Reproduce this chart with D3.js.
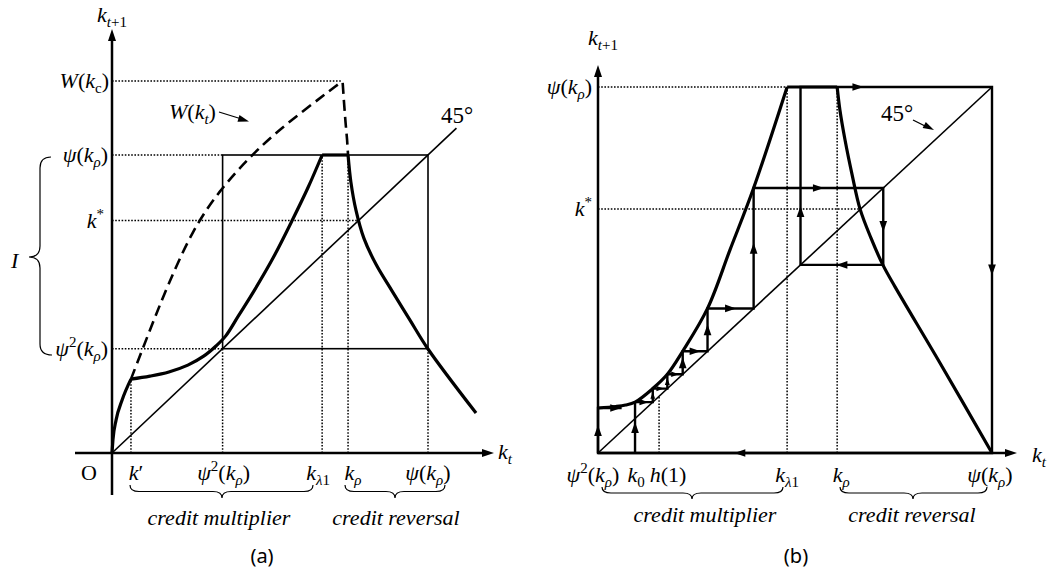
<!DOCTYPE html>
<html><head><meta charset="utf-8">
<script src="https://cdn.jsdelivr.net/npm/d3@7/dist/d3.min.js"></script>
<style>html,body{margin:0;padding:0;background:#fff;}svg{display:block;}</style>
</head><body>
<svg id="c" width="1049" height="573"></svg>
<script>
// ---------------- DATA ----------------
// Panel (a): positions on the axes (units where psi(k_rho) = 10)
const aTicks = { kPrime: 0.60, psi2: 3.5, kLambda: 6.65, kRho: 7.47, psi: 10, kStar: 7.8, Wkc: 12.48 };
// Panel (a) map k_{t+1} = f(k_t), pieces
const aLowX  = [0, 0.03, 0.13, 0.32, 0.60];
const aLowY  = [0, 0.44, 1.11, 1.78, 2.48];
const aRiseX = [0.60, 1.20, 1.80, 2.40, 2.90, 3.30, 3.60, 4.00, 4.50, 5.10, 5.70, 6.20, 6.65];
const aRiseY = [2.48, 2.58, 2.72, 2.95, 3.25, 3.60, 3.93, 4.60, 5.45, 6.55, 7.80, 8.90, 10];
const aFallX = [7.47, 7.56, 7.72, 7.97, 8.35, 8.86, 9.43, 10, 11.52];
const aFallY = [10, 9.09, 8.15, 7.21, 6.34, 5.44, 4.46, 3.49, 1.34];
// Panel (a) W(k_t) dashed curve
const aWX = [0.60, 1.20, 1.74, 2.56, 3.42, 4.27, 5.09, 6.17, 7.22];
const aWY = [2.48, 4.13, 5.57, 7.52, 8.83, 9.83, 10.67, 11.58, 12.42];
const aWDropX = [7.30, 7.34, 7.39, 7.44, 7.47];
const aWDropY = [12.42, 11.8, 11.1, 10.5, 10];
const a45End = 10.9;

// Panel (b)
const bTicks = { k0: 0.94, h1: 1.55, kLambda: 4.80, kRho: 6.07, psi: 10, kStar: 6.67, start: 1.23 };
const bRiseX = [0, 0.45, 0.70, 0.94, 1.39, 1.76, 2.15, 2.78, 3.35, 3.95, 4.80];
const bRiseY = [1.23, 1.27, 1.31, 1.39, 1.76, 2.15, 2.78, 3.95, 5.55, 7.24, 10];
const bFallX = [6.07, 6.14, 6.27, 6.45, 6.65, 6.93, 7.23, 7.54, 8.68, 10];
const bFallY = [10, 9.37, 8.55, 7.60, 6.67, 5.87, 5.14, 4.54, 2.46, 0];
// cobweb sequence k0, k1, k2, ...
const bSeq = [0.94, 1.39, 1.76, 2.15, 2.78, 3.95, 7.24, 5.14, 10];

// ---------------- DRAWING ----------------
const svg = d3.select('#c');
const SERIF = "'Liberation Serif'";
const SANS = "'Noto Sans'";

const xA = d3.scaleLinear().domain([0, 10]).range([112, 428]);
const yA = d3.scaleLinear().domain([0, 10]).range([453, 155]);
const xB = d3.scaleLinear().domain([0, 10]).range([598, 992]);
const yB = d3.scaleLinear().domain([0, 10]).range([453, 87]);

function zip(xs, ys) { return xs.map((x, i) => [x, ys[i]]); }
const smooth = d3.curveCatmullRom.alpha(0.5);

function curve(g, xs, ys, sx, sy, w, dash, kind) {
  const line = d3.line().x(d => sx(d[0])).y(d => sy(d[1])).curve(kind || smooth);
  const p = g.append('path').attr('d', line(zip(xs, ys))).attr('fill', 'none')
    .attr('stroke', '#000').attr('stroke-width', w).attr('stroke-linejoin', 'round');
  if (dash) p.attr('stroke-dasharray', dash);
  return p;
}
function seg(g, x1, y1, x2, y2, w, dash) {
  const l = g.append('line').attr('x1', x1).attr('y1', y1).attr('x2', x2).attr('y2', y2)
    .attr('stroke', '#000').attr('stroke-width', w);
  if (dash) l.attr('stroke-dasharray', dash);
  return l;
}
function head(g, x, y, ang, len, wid) {
  len = len || 11; wid = wid || 8;
  const a = ang * Math.PI / 180, c = Math.cos(a), s = Math.sin(a);
  const bx = x - len * c, by = y - len * s;
  const px = -s * wid / 2, py = c * wid / 2;
  g.append('path').attr('d', `M${x},${y}L${bx + px},${by + py}L${bx - px},${by - py}Z`).attr('fill', '#000');
}
function label(g, x, y, parts, anchor, size) {
  size = size || 22;
  const allUp = parts.every(p => (p[1] || '').includes('u'));
  const t = g.append('text').attr('x', x).attr('y', y).attr('text-anchor', anchor || 'start')
    .attr('font-size', size).style('font-family', SERIF)
    .style('font-style', allUp ? 'normal' : 'italic');
  let shift = 0;
  parts.forEach(p => {
    const s = p[0], f = p[1] || '';
    const target = f.includes('b') ? 5 : f.includes('p') ? -9 : 0;
    const ts = t.append('tspan').text(s).attr('dy', target - shift);
    shift = target;
    if (f.includes('u')) ts.style('font-style', 'normal');
    if (f.includes('b') || f.includes('p')) ts.attr('font-size', Math.round(size * 0.68));
  });
  return t;
}
function hbrace(g, x1, x2, xm, y, h) {
  const r = 9, m = y + h / 2;
  g.append('path').attr('d',
    `M${x1},${y}Q${x1},${m} ${x1 + r},${m}L${xm - r},${m}Q${xm},${m} ${xm},${y + h}Q${xm},${m} ${xm + r},${m}L${x2 - r},${m}Q${x2},${m} ${x2},${y}`)
    .attr('fill', 'none').attr('stroke', '#000').attr('stroke-width', 1.2);
}
const DOT = '1.6,1.6';
const psiR = [['ψ'], ['(', 'u'], ['k'], ['ρ', 'b'], [')', 'u']];
const psi2R = [['ψ'], ['2', 'pu'], ['(', 'u'], ['k'], ['ρ', 'b'], [')', 'u']];
const kStarL = [['k'], ['*', 'pu']];
const kLamL = [['k'], ['λ', 'b'], ['1', 'bu']];
const kRhoL = [['k'], ['ρ', 'b']];

// ======== Panel (a) ========
const ga = svg.append('g');
// dotted guides
seg(ga, xA(0), yA(aTicks.Wkc), xA(aWX[aWX.length - 1]) + 2, yA(aTicks.Wkc), 1.5, DOT);
seg(ga, xA(0), yA(aTicks.psi), xA(aTicks.psi2), yA(aTicks.psi), 1.5, DOT);
seg(ga, xA(0), yA(aTicks.kStar), xA(aTicks.kStar), yA(aTicks.kStar), 1.5, DOT);
seg(ga, xA(0), yA(aTicks.psi2), xA(aTicks.psi2), yA(aTicks.psi2), 1.5, DOT);
seg(ga, xA(aTicks.kPrime), yA(0), xA(aTicks.kPrime), yA(aLowY[aLowY.length - 1]), 1.5, DOT);
seg(ga, xA(aTicks.psi2), yA(0), xA(aTicks.psi2), yA(aTicks.psi2), 1.5, DOT);
seg(ga, xA(aTicks.kLambda), yA(0), xA(aTicks.kLambda), yA(aTicks.psi), 1.5, DOT);
seg(ga, xA(aTicks.kRho), yA(0), xA(aTicks.kRho), yA(aTicks.psi), 1.5, DOT);
seg(ga, xA(aTicks.psi), yA(0), xA(aTicks.psi), yA(aTicks.psi2), 1.5, DOT);
// box
ga.append('rect').attr('x', xA(aTicks.psi2)).attr('y', yA(aTicks.psi))
  .attr('width', xA(aTicks.psi) - xA(aTicks.psi2)).attr('height', yA(aTicks.psi2) - yA(aTicks.psi))
  .attr('fill', 'none').attr('stroke', '#000').attr('stroke-width', 1.6);
// 45 degree line
seg(ga, xA(0), yA(0), xA(a45End), yA(a45End), 1.6);
// axes
seg(ga, 75, yA(0), 484, yA(0), 2.5); head(ga, 494, yA(0), 0, 12, 8);
seg(ga, xA(0), 495, xA(0), 40, 2.5); head(ga, xA(0), 29, -90, 12, 8);
// curves
curve(ga, aLowX, aLowY, xA, yA, 3.2, null, d3.curveMonotoneX);
curve(ga, aRiseX, aRiseY, xA, yA, 3.2);
seg(ga, xA(aTicks.kLambda), yA(10), xA(aTicks.kRho), yA(10), 3.2);
curve(ga, aFallX, aFallY, xA, yA, 3.2);
curve(ga, aWX, aWY, xA, yA, 2.6, '11,6', d3.curveBasis);
curve(ga, aWDropX, aWDropY, xA, yA, 2.6, '11,6', d3.curveLinear);
// W(k_t) annotation
label(ga, 169, 119, [['W'], ['(', 'u'], ['k'], ['t', 'b'], [')', 'u']]);
seg(ga, 219, 112, 240, 118.5, 1.3); head(ga, 249, 121.5, 17, 11, 7);
label(ga, 441, 123, [['45°', 'u']], 'start', 23);
// y labels
label(ga, 109, 88, [['W'], ['(', 'u'], ['k'], ['c', 'bu'], [')', 'u']], 'end');
label(ga, 108, 162, psiR, 'end');
label(ga, 104, 228, kStarL, 'end');
label(ga, 108, 356, psi2R, 'end');
label(ga, 97, 22, [['k'], ['t', 'b'], ['+1', 'bu']]);
label(ga, 498, 459, [['k'], ['t', 'b']]);
label(ga, 11, 268, [['I']]);
ga.append('path').attr('d', 'M51,157Q40,157 40,168L40,246Q40,257 29,257Q40,257 40,268L40,344Q40,355 52,355')
  .attr('fill', 'none').attr('stroke', '#000').attr('stroke-width', 1.2);
// x labels
label(ga, 89, 480, [['O', 'u']], 'middle');
label(ga, xA(aTicks.kPrime) + 5, 480, [['k'], ['′', 'u']], 'middle');
label(ga, xA(aTicks.psi2) + 1, 480, psi2R, 'middle');
label(ga, xA(aTicks.kLambda) - 4, 480, kLamL, 'middle');
label(ga, xA(aTicks.kRho) + 5, 480, kRhoL, 'middle');
label(ga, xA(aTicks.psi), 480, psiR, 'middle');
hbrace(ga, 130, 313, 222, 485, 13);
hbrace(ga, 345, 445, 395, 485, 13);
label(ga, 219, 525, [['credit multiplier']], 'middle');
label(ga, 396, 525, [['credit reversal']], 'middle');
ga.append('text').attr('x', 262).attr('y', 563).attr('text-anchor', 'middle')
  .style('font-family', SANS).attr('font-size', 20).text('(a)');

// ======== Panel (b) ========
const gb = svg.append('g');
seg(gb, xB(0), yB(bTicks.psi), xB(bTicks.kLambda), yB(bTicks.psi), 1.5, DOT);
seg(gb, xB(0), yB(bTicks.kStar), xB(bTicks.kStar), yB(bTicks.kStar), 1.5, DOT);
seg(gb, xB(bTicks.kLambda), yB(0), xB(bTicks.kLambda), yB(bTicks.psi), 1.5, DOT);
seg(gb, xB(bTicks.kRho), yB(0), xB(bTicks.kRho), yB(bTicks.psi), 1.5, DOT);
seg(gb, xB(bTicks.h1), yB(0), xB(bTicks.h1), yB(bTicks.h1), 1.5, DOT);
// 45 degree line
seg(gb, xB(0), yB(0), xB(10), yB(10), 1.6);
// axes
seg(gb, xB(0), yB(0), 1006, yB(0), 2.5); head(gb, 1017, yB(0), 0, 12, 8);
seg(gb, xB(0), yB(0), xB(0), 76, 2.5); head(gb, xB(0), 65, -90, 12, 8);
// cobweb path
const cw = [[bSeq[0], 0]];
for (let i = 1; i < bSeq.length; i++) { cw.push([bSeq[i - 1], bSeq[i]]); cw.push([bSeq[i], bSeq[i]]); }
cw.push([10, 0]); cw.push([0, 0]); cw.push([0, bTicks.start]); cw.push([0.6, bTicks.start]);
const cwLine = d3.line().x(d => xB(d[0])).y(d => yB(d[1]));
gb.append('path').attr('d', cwLine(cw)).attr('fill', 'none').attr('stroke', '#000')
  .attr('stroke-width', 2.4).attr('stroke-linejoin', 'miter');
// arrows on the cobweb segments
for (let i = 0; i < cw.length - 1; i++) {
  const p0 = [xB(cw[i][0]), yB(cw[i][1])], p1 = [xB(cw[i + 1][0]), yB(cw[i + 1][1])];
  const len = Math.hypot(p1[0] - p0[0], p1[1] - p0[1]);
  if (len < 13) continue;
  let f = 0.5;
  if (cw[i][0] === 10 && cw[i][1] === 0) f = 0.64;
  if (cw[i][0] === bSeq[7] && cw[i + 1][1] === 10) f = 0.3;
  if (cw[i][0] === 0 && cw[i + 1][0] === 0.6) f = 0.75;
  const ang = Math.atan2(p1[1] - p0[1], p1[0] - p0[0]) * 180 / Math.PI;
  const hl = Math.min(11, len * 0.5);
  const cx = p0[0] + (p1[0] - p0[0]) * f, cy = p0[1] + (p1[1] - p0[1]) * f;
  const a = ang * Math.PI / 180;
  head(gb, cx + Math.cos(a) * hl / 2, cy + Math.sin(a) * hl / 2, ang, hl, hl * 0.7);
}
// curves
curve(gb, bRiseX, bRiseY, xB, yB, 3.2);
seg(gb, xB(bTicks.kLambda), yB(10), xB(bTicks.kRho), yB(10), 3.2);
curve(gb, bFallX, bFallY, xB, yB, 3.2);
// labels
label(gb, 588, 45, [['k'], ['t', 'b'], ['+1', 'bu']]);
label(gb, 592, 94, psiR, 'end');
label(gb, 592, 216, kStarL, 'end');
label(gb, 1032, 462, [['k'], ['t', 'b']]);
label(gb, 881, 121, [['45°', 'u']], 'start', 23);
seg(gb, 913, 120, 925, 126, 1.3); head(gb, 934, 130, 27, 11, 7);
label(gb, xB(0) - 5, 482, psi2R, 'middle');
label(gb, xB(bTicks.k0) + 1, 482, [['k'], ['0', 'bu']], 'middle');
label(gb, 668, 482, [['h'], ['(1)', 'u']], 'middle');
label(gb, xB(bTicks.kLambda), 482, kLamL, 'middle');
label(gb, xB(bTicks.kRho) + 4, 482, kRhoL, 'middle');
label(gb, xB(bTicks.psi) - 2, 482, psiR, 'middle');
hbrace(gb, 602, 783, 692, 487, 12);
hbrace(gb, 840, 987, 913, 487, 12);
label(gb, 705, 522, [['credit multiplier']], 'middle');
label(gb, 912, 522, [['credit reversal']], 'middle');
gb.append('text').attr('x', 796).attr('y', 563).attr('text-anchor', 'middle')
  .style('font-family', SANS).attr('font-size', 20).text('(b)');
</script>
</body></html>
